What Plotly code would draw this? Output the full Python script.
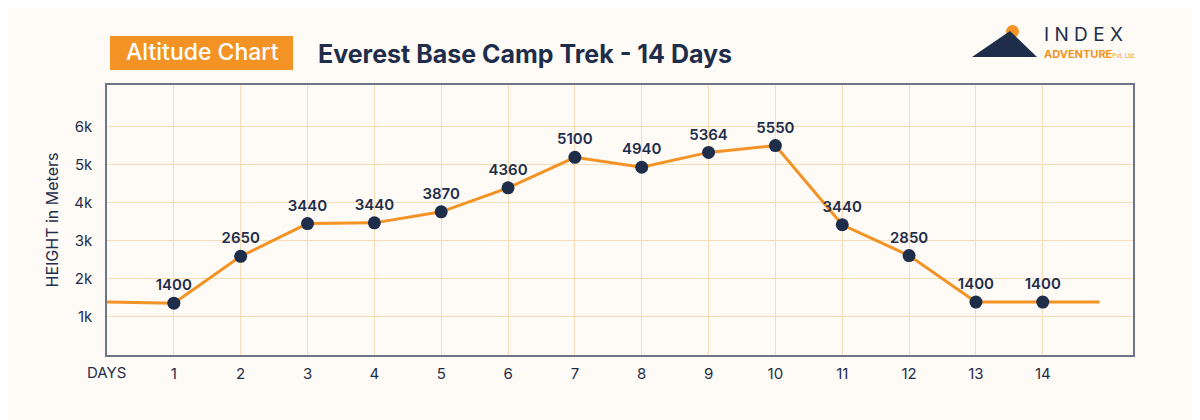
import plotly.graph_objects as go

days = list(range(1, 15))
plotted = [1360, 2590, 3450, 3470, 3760, 4390, 5190, 4930, 5320, 5500, 3420, 2610, 1390, 1390]
labels = ["1400", "2650", "3440", "3440", "3870", "4360", "5100", "4940", "5364", "5550", "3440", "2850", "1400", "1400"]
line_x = [0] + days + [14.85]
line_y = [1390] + plotted + [1390]
yticks = [1000, 2000, 3000, 4000, 5000, 6000]
ytext = ["1k", "2k", "3k", "4k", "5k", "6k"]

navy = "#1e2d4a"
orange = "#f39325"
bg = "#fefbf7"

def px(x):
    return (x - 107) / 1026

def py(y):
    return (355 - y) / 270

def ann(x, y, text, size, color, weight=400, xanchor="center"):
    fig.add_annotation(xref="paper", yref="paper", x=px(x), y=py(y), text=text, showarrow=False,
                       xanchor=xanchor, yanchor="middle",
                       font=dict(size=size, color=color, family="Inter", weight=weight))

fig = go.Figure()
fig.add_trace(go.Scatter(x=line_x, y=line_y, mode="lines", line=dict(color=orange, width=3), hoverinfo="skip"))
fig.add_trace(go.Scatter(x=days, y=plotted, mode="markers+text", text=labels, textposition="top center",
                         textfont=dict(color=navy, size=15, family="Inter", weight=600),
                         marker=dict(color=navy, size=13)))

fig.update_layout(
    width=1192, height=412, showlegend=False,
    paper_bgcolor=bg, plot_bgcolor=bg,
    margin=dict(l=99, r=67, t=77, b=65),
    font=dict(family="Inter", color=navy),
    xaxis=dict(range=[0, 15.35], tickvals=days, ticktext=[str(d) for d in days], automargin=False,
               showgrid=True, gridcolor="#f8dcb8", gridwidth=1, zeroline=False,
               showline=True, linecolor="#6b7585", mirror=True, linewidth=1.5,
               tickfont=dict(size=15, color=navy), ticks="", ticklabelstandoff=4),
    yaxis=dict(range=[0, 7090], tickvals=yticks, ticktext=ytext, automargin=False,
               showgrid=True, gridcolor="#f8dcb8", gridwidth=1, zeroline=False,
               showline=True, linecolor="#6b7585", mirror=True, linewidth=1.5,
               tickfont=dict(size=15, color=navy), ticks="", ticklabelstandoff=10,
               title=dict(text="HEIGHT in Meters", font=dict(size=16, color=navy), standoff=12)),
)

ann(128, 372, "DAYS", 15, navy, xanchor="right")
# header badge
fig.add_shape(type="rect", xref="paper", yref="paper", x0=px(110), x1=px(293),
              y0=py(70), y1=py(36), fillcolor=orange, line=dict(width=0), layer="below")
ann(202, 52, "Altitude Chart", 23, "white", 500)
ann(316, 54, "Everest Base Camp Trek - 14 Days", 25, navy, 700, xanchor="left")
# logo
fig.add_shape(type="circle", xref="paper", yref="paper", x0=px(1006), x1=px(1019),
              y0=py(38), y1=py(25), fillcolor=orange, line=dict(width=0))
fig.add_shape(type="path", xref="paper", yref="paper",
              path=f"M {px(972)} {py(57)} L {px(1010)} {py(31)} L {px(1037)} {py(57)} Z",
              fillcolor=navy, line=dict(width=0))
ann(1042, 34, "I N D E X", 19, navy, xanchor="left")
ann(1042, 54, "<b>ADVENTURE</b><span style='font-size:6px'>Pvt. Ltd.</span>", 11, orange, xanchor="left")

fig.write_html("out.html")
